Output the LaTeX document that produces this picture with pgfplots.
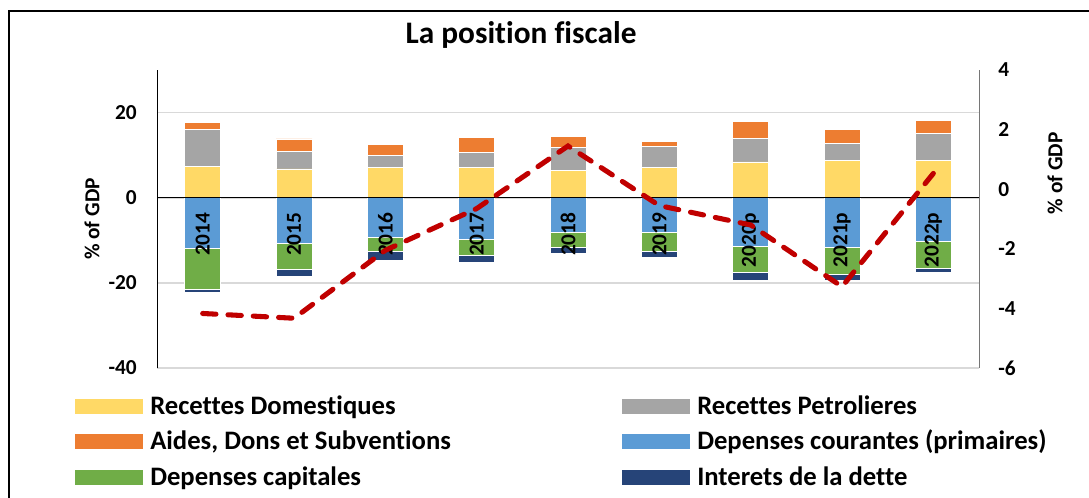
\documentclass[border=0pt]{standalone}
\usepackage{pgfplots}
\usepackage{pgfplotstable}
\pgfplotsset{compat=1.18}
\usepackage{fontspec}
\setmainfont{Carlito}[Ligatures=NoCommon]

\definecolor{cRD}{RGB}{255,217,102}
\definecolor{cRP}{RGB}{165,165,165}
\definecolor{cAD}{RGB}{237,125,49}
\definecolor{cDC}{RGB}{91,155,213}
\definecolor{cDK}{RGB}{112,173,71}
\definecolor{cIN}{RGB}{38,68,120}
\definecolor{cLine}{RGB}{192,0,0}
\definecolor{cGrid}{RGB}{217,217,217}
\definecolor{cRax}{RGB}{118,118,118}

\pgfplotstableread{
x RD RP AD DC DK IN SB
0 7.4 8.7 1.6 -11.9 -9.7 -0.5 -4.17
1 6.8 4.0 3.0 -10.8 -5.9 -1.7 -4.33
2 7.2 2.8 2.5 -9.4 -3.2 -2.0 -2.05
3 7.2 3.4 3.6 -9.8 -3.6 -1.7 -0.65
4 6.4 5.4 2.6 -8.0 -3.7 -1.4 1.45
5 7.1 4.9 1.2 -8.2 -4.3 -1.5 -0.55
6 8.4 5.6 4.0 -11.3 -6.3 -1.8 -1.20
7 8.8 4.0 3.3 -11.6 -6.4 -1.5 -3.27
8 8.7 6.4 3.0 -10.3 -6.3 -1.0 0.53
}\data

\pgfplotsset{
  myaxis/.style={scale only axis, width=616.5pt, height=223.5pt,
    at={(117.75pt,-276pt)}, anchor=south west, xmin=-0.5, xmax=8.5, bar width=27pt},
  sw/.style={legend image code/.code={\fill[draw=none, fill=#1] (0pt,-5.6pt) rectangle (51pt,5.6pt);}},
}
\newcommand{\tf}{\fontsize{16}{19}\selectfont\bfseries}

\begin{document}
\begin{tikzpicture}
\draw[line width=1.5pt, black] (6.75pt,-420pt) -- (6.75pt,-8.25pt) -- (862pt,-8.25pt);

% negatives + grid
\begin{axis}[myaxis, ymin=-40, ymax=30, ytick={-40,-20,0,20}, ymajorgrids,
  grid style={cGrid, line width=1.2pt}, yticklabels={}, xtick=\empty,
  axis line style={draw=none}, major tick length=0, ybar stacked]
\addplot[fill=cDC, draw=white, line width=0.4pt] table[x=x,y=DC]{\data};
\addplot[fill=cDK, draw=white, line width=0.4pt] table[x=x,y=DK]{\data};
\addplot[fill=cIN, draw=white, line width=0.4pt] table[x=x,y=IN]{\data};
\end{axis}

% positives + decorations
\begin{axis}[myaxis, ymin=-40, ymax=30, ytick={-40,-20,0,20}, ybar stacked,
  axis on top, axis x line*=middle, axis y line*=left,
  hide obscured x ticks=false, hide obscured y ticks=false,
  xtick={0,...,8}, xticklabels={2014,2015,2016,2017,2018,2019,2020p,2021p,2022p},
  major tick length=0,
  x axis line style={black, line width=1.1pt},
  y axis line style={black, line width=0.75pt},
  xticklabel style={rotate=90, anchor=east, inner sep=0pt, font=\tf},
  xticklabel shift=11pt,
  yticklabel style={inner sep=0pt, anchor=east, xshift=-15pt, font=\tf},
  /pgf/number format/assume math mode=true,
  every axis y label/.style={at={(axis description cs:-0.0791,0.5)}, rotate=90, anchor=center, font=\tf},
  ylabel={\% of GDP},
  title={La position fiscale},
  title style={at={(axis description cs:0.4428,1.0614)}, anchor=base, inner sep=0pt,
    font=\fontsize{23.5}{28}\selectfont\bfseries},
  legend columns=2,
  legend style={draw=none, fill=none, inner sep=0pt, row sep=6.8pt,
    at={(axis description cs:-0.09976,-0.0829)}, anchor=north west,
    font=\fontsize{20}{24}\selectfont\bfseries,
    nodes={inner sep=0pt, text height=16pt, text depth=3.8pt},
    /tikz/every odd column/.append style={column sep=5.25pt},
    /tikz/every even column/.append style={column sep=0pt}},
  legend cell align=left]
\addplot[fill=cRD, draw=white, line width=0.4pt, sw=cRD] table[x=x,y=RD]{\data};
\addlegendentry{\makebox[354pt][l]{Recettes Domestiques}}
\addplot[fill=cRP, draw=white, line width=0.4pt, sw=cRP] table[x=x,y=RP]{\data};
\addlegendentry{Recettes Petrolieres}
\addplot[fill=cAD, draw=white, line width=0.4pt, sw=cAD] table[x=x,y=AD]{\data};
\addlegendentry{\makebox[354pt][l]{Aides, Dons et Subventions}}
\addlegendimage{sw=cDC}
\addlegendentry{Depenses courantes (primaires)}
\addlegendimage{sw=cDK}
\addlegendentry{\makebox[354pt][l]{Depenses capitales}}
\addlegendimage{sw=cIN}
\addlegendentry{Interets de la dette}
\end{axis}

% balance line, right axis
\begin{axis}[myaxis, ymin=-6, ymax=4, ytick={-6,-4,...,4},
  axis x line=none, axis y line*=right,
  y axis line style={draw=cRax, line width=0.75pt},
  major tick length=0,
  yticklabel style={inner sep=0pt, anchor=west, xshift=14.25pt, font=\tf},
  /pgf/number format/assume math mode=true,
  every axis y label/.style={at={(axis description cs:1.0925,0.654)}, rotate=90, anchor=center, font=\tf},
  ylabel={\% of GDP}]
\addplot[cLine, line width=3.8pt, dash pattern=on 10pt off 9pt, line cap=round, mark=none]
  table[x=x,y=SB]{\data};
\end{axis}
\pgfresetboundingbox
\path[use as bounding box] (0pt,0pt) rectangle (816.75pt,-372.75pt);
\end{tikzpicture}
\end{document}
